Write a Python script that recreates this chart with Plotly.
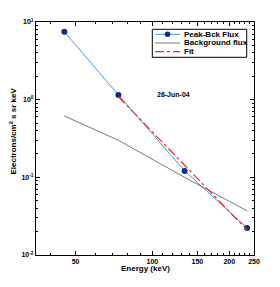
import plotly.graph_objects as go

energy = [45.2, 73.6, 133.7, 235.0]
peak_bck_flux = [7.5, 1.15, 0.121, 0.0223]
background_flux = [0.616, 0.30, 0.10, 0.037]
fit_energy = [73.6, 235.0]
fit_flux = [1.09, 0.021]

x_tickvals = [50, 100, 150, 200, 250]
x_ticktext = ["50", "100", "150", "200", "250"]
y_tickvals = [0.01, 0.1, 1, 10]
y_ticktext = ["10<sup>-2</sup>", "10<sup>-1</sup>", "10<sup>0</sup>", "10<sup>1</sup>"]
x_minor = [40, 60, 70, 80, 90, 110, 120, 130, 140, 160, 170, 180, 190,
           210, 220, 230, 240]
y_minor = [0.02, 0.03, 0.04, 0.05, 0.06, 0.07, 0.08, 0.09,
           0.2, 0.3, 0.4, 0.5, 0.6, 0.7, 0.8, 0.9,
           2, 3, 4, 5, 6, 7, 8, 9]

names = ["Peak-Bck Flux", "Background flux", "Fit"]
colors = ["#3a9ee0", "#555555", "#ff2020"]
marker_color = "#14288c"

fig = go.Figure()
fig.add_trace(go.Scatter(x=energy, y=peak_bck_flux, mode="lines+markers",
                         name=names[0],
                         line=dict(color=colors[0], width=1),
                         marker=dict(color=marker_color, size=6)))
fig.add_trace(go.Scatter(x=energy, y=background_flux, mode="lines",
                         name=names[1],
                         line=dict(color=colors[1], width=0.8)))
fig.add_trace(go.Scatter(x=fit_energy, y=fit_flux, mode="lines",
                         name=names[2],
                         line=dict(color=colors[2], width=1.2, dash="dashdot")))

# Compact legend drawn with shapes + annotations (plotly's native legend rows are too tall)
lx0, lx1, ly0, ly1 = 0.5335, 0.9665, 0.8485, 0.9687
sx0, sx1, tx = 0.546, 0.661, 0.668
rows = [0.9472, 0.9099, 0.8725]
dashes = ["solid", "solid", "dashdot"]
widths = [1, 0.8, 1.2]
shapes = [dict(type="rect", xref="paper", yref="paper", x0=lx0, x1=lx1, y0=ly0, y1=ly1,
               line=dict(color="black", width=1), fillcolor="white", layer="above")]
annotations = []
for name, c, d, w, ry in zip(names, colors, dashes, widths, rows):
    shapes.append(dict(type="line", xref="paper", yref="paper", x0=sx0, x1=sx1, y0=ry, y1=ry,
                       line=dict(color=c, width=w, dash=d), layer="above"))
    annotations.append(dict(x=tx, y=ry, xref="paper", yref="paper", text="<b>%s</b>" % name,
                            showarrow=False, xanchor="left", yanchor="middle",
                            font=dict(size=8, color="black")))
mx = (sx0 + sx1) / 2
shapes.append(dict(type="circle", xref="paper", yref="paper",
                   x0=mx - 0.0126, x1=mx + 0.0126, y0=rows[0] - 0.0118, y1=rows[0] + 0.0118,
                   line=dict(color=marker_color, width=0), fillcolor=marker_color, layer="above"))
annotations.append(dict(x=0.714, y=0.711, xref="paper", yref="paper",
                        text="<b>26-Jun-04</b>", showarrow=False,
                        font=dict(size=7, color="black")))
# axis titles as annotations for exact placement
annotations.append(dict(x=0.5, y=-0.060, xref="paper", yref="paper",
                        text="<b>Energy (keV)</b>", showarrow=False,
                        xanchor="center", yanchor="middle",
                        font=dict(size=8, color="black")))
annotations.append(dict(x=-0.110, y=0.53, xref="paper", yref="paper",
                        text="<b>Electrons/cm<sup>2</sup> s sr keV</b>", showarrow=False,
                        textangle=-90, xanchor="center", yanchor="middle",
                        font=dict(size=8, color="black")))

font = dict(family="Liberation Sans, Arial, sans-serif", size=7, color="black")

# the page body adds an 8px margin, so the figure is 8px smaller and the top/left margins compensate
fig.update_layout(
    width=272, height=279,
    margin=dict(l=28, r=26, t=14, b=32),
    paper_bgcolor="white", plot_bgcolor="white",
    font=font,
    showlegend=False,
    shapes=shapes,
    annotations=annotations,
)
fig.update_xaxes(type="log", range=[1.5441, 2.3979], automargin=False,
                 tickvals=x_tickvals, ticktext=x_ticktext,
                 ticks="inside", ticklen=4, tickcolor="black",
                 showline=True, linecolor="black", linewidth=1, mirror="allticks",
                 showgrid=False, zeroline=False,
                 tickfont=dict(size=7, weight="bold"),
                 minor=dict(tickvals=x_minor, ticks="inside", ticklen=2,
                            tickcolor="black", showgrid=False))
fig.update_yaxes(type="log", range=[-2, 1], automargin=False,
                 tickvals=y_tickvals, ticktext=y_ticktext,
                 ticks="inside", ticklen=4, tickcolor="black",
                 showline=True, linecolor="black", linewidth=1, mirror="allticks",
                 showgrid=False, zeroline=False,
                 tickfont=dict(size=7, weight="bold"),
                 minor=dict(tickvals=y_minor, ticks="inside", ticklen=2,
                            tickcolor="black", showgrid=False))

fig.write_html("out.html")
